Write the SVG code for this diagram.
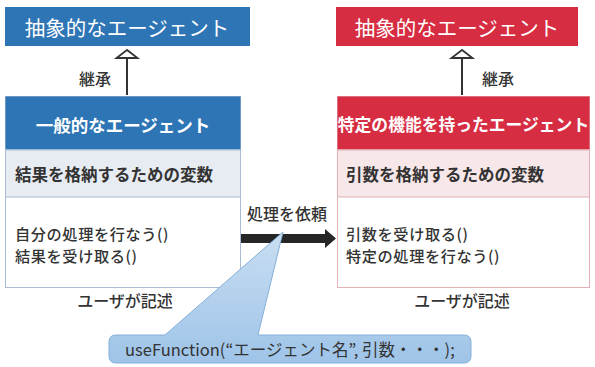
<svg xmlns="http://www.w3.org/2000/svg" width="595" height="367" viewBox="0 0 595 367">
<defs>
<style>
text{font-family:"Noto Sans CJK JP","Noto Sans",sans-serif;}
.ttl{fill:#fff;font-size:20.5px;text-anchor:middle;dominant-baseline:central;}
.hdr{fill:#fff;font-size:17.5px;font-weight:bold;text-anchor:middle;dominant-baseline:central;}
.var{fill:#333;font-size:16.5px;font-weight:bold;dominant-baseline:central;}
.mth{fill:#333;font-size:15.2px;font-weight:500;dominant-baseline:central;letter-spacing:0.6px;}
.lbl{fill:#333;font-size:16px;font-weight:500;dominant-baseline:central;}
.inh{fill:none;stroke:#333;stroke-width:2;}
.head{fill:#fff;stroke:#333;stroke-width:1.8;stroke-linejoin:miter;}
</style>
<linearGradient id="cg" x1="0" y1="0" x2="0" y2="1">
<stop offset="0" stop-color="#c9def2"/>
<stop offset="1" stop-color="#9ec4e8"/>
</linearGradient>
</defs>
<rect width="595" height="367" fill="#fff"/>

<g id="abstract-left">
<rect x="5" y="7" width="245" height="39" fill="#2e75b6"/>
<text class="ttl" x="127" y="27">抽象的なエージェント</text>
</g>
<g id="abstract-right">
<rect x="336" y="7" width="242" height="39" fill="#d72d42"/>
<text class="ttl" x="457" y="27">抽象的なエージェント</text>
</g>

<g id="general-agent">
<rect x="5.5" y="96.5" width="235" height="191" fill="#fff" stroke="#a9bcd6"/>
<rect x="5.5" y="96.5" width="235" height="53" fill="#2e75b6"/>
<rect x="5.5" y="150" width="235" height="47" fill="#e7ebf2" stroke="#a9bcd6"/>
<text class="hdr" x="123" y="124">一般的なエージェント</text>
<text class="var" x="15" y="174">結果を格納するための変数</text>
<text class="mth" x="15" y="233">自分の処理を行なう()</text>
<text class="mth" x="15" y="255">結果を受け取る()</text>
</g>

<g id="specific-agent">
<rect x="337.5" y="96.5" width="252" height="191" fill="#fff" stroke="#e2b0b5"/>
<rect x="337.5" y="96.5" width="252" height="53" fill="#d72d42"/>
<rect x="337.5" y="150" width="252" height="47" fill="#f7e7e8" stroke="#e2b0b5"/>
<text class="hdr" x="463.5" y="124" style="font-size:16.8px">特定の機能を持ったエージェント</text>
<text class="var" x="346" y="174">引数を格納するための変数</text>
<text class="mth" x="346" y="233">引数を受け取る()</text>
<text class="mth" x="346" y="255">特定の処理を行なう()</text>
</g>

<g id="connectors">
<line class="inh" x1="127" y1="95" x2="127" y2="58"/>
<path class="head" d="M127,50 L116.5,58 L137.5,58 Z"/>
<line class="inh" x1="462" y1="95" x2="462" y2="58"/>
<path class="head" d="M462,50 L451.5,58 L472.5,58 Z"/>
<text class="lbl" x="95" y="78" text-anchor="middle">継承</text>
<text class="lbl" x="498" y="78" text-anchor="middle">継承</text>
<path d="M241,234 L325,234 L325,229 L336,238.5 L325,248 L325,243 L241,243 Z" fill="#262626"/>
<text class="lbl" x="287" y="213" text-anchor="middle">処理を依頼</text>
</g>

<text class="lbl" x="125" y="300" text-anchor="middle">ユーザが記述</text>
<text class="lbl" x="462" y="300" text-anchor="middle">ユーザが記述</text>

<g id="callout">
<path d="M116,335 L165,335 L283,232 L258,335 L464,335 Q471,335 471,342 L471,356 Q471,363 464,363 L116,363 Q109,363 109,356 L109,342 Q109,335 116,335 Z" fill="url(#cg)" stroke="#86afd8" stroke-width="1"/>
<text x="125" y="349" font-size="16.5" fill="#333" font-family="'Open Sans','Noto Sans CJK JP',sans-serif" dominant-baseline="central">useFunction(“エージェント名”, 引数・・・);</text>
</g>
</svg>
